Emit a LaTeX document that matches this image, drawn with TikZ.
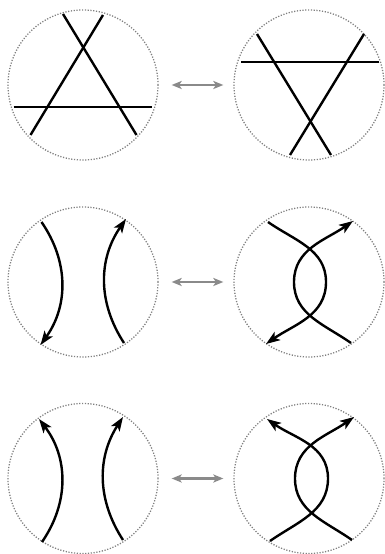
\documentclass[tikz,border=0pt]{standalone}
\usetikzlibrary{arrows.meta}
\definecolor{dotgray}{HTML}{808080}
\definecolor{arrgray}{HTML}{8A8A8A}
\begin{document}
\begin{tikzpicture}[x=1pt,y=1pt,
  disk/.style={circle,minimum size=150pt,inner sep=0pt,draw=dotgray,line width=1.3pt,dash pattern=on 1.2pt off 1.6pt},
  strand/.style={line width=2.4pt,black},
  arr/.style={strand,-{Stealth[length=14pt,width=10pt,inset=3.5pt]}},
  move/.style={arrgray,line width=2.2pt,{Stealth[length=10pt,width=8pt,inset=2.5pt]}-{Stealth[length=10pt,width=8pt,inset=2.5pt]},shorten <=13pt,shorten >=10pt}]
\useasboundingbox (0,0) rectangle (385,554);
% circles
\node[disk] (L1) at (83,469) {};
\node[disk] (R1) at (309,469) {};
\node[disk] (L2) at (83,272) {};
\node[disk] (R2) at (309,272) {};
\node[disk] (L3) at (83,75.5) {};
\node[disk] (R3) at (309,75.5) {};
% moves
\draw[move] (L1) -- (R1);
\draw[move] (L2) -- (R2);
\draw[move] (L3) -- (R3);
% row 1 left
\begin{scope}[shift={(L1.center)}]
  \draw[strand] (-20,71) -- (53.5,-50);
  \draw[strand] (20,70) -- (-52.5,-50);
  \draw[strand] (-69.5,-22) -- (69,-22);
\end{scope}
% row 1 right
\begin{scope}[shift={(R1.center)}]
  \draw[strand] (-52,51) -- (22,-70);
  \draw[strand] (55,51) -- (-19,-70);
  \draw[strand] (-68,23) -- (70,23);
\end{scope}
% row 2 left
\begin{scope}[shift={(L2.center)}]
  \draw[arr] (-41.5,60) to[bend left=35] (-42.5,-63);
  \draw[arr] (41,-61) to[bend left=34] (43,63);
\end{scope}
% row 2 right
\begin{scope}[shift={(R2.center)}]
  \draw[arr] (-41,60) to[out=-35,in=90] (17,0) to[out=-90,in=35] (-43,-62);
  \draw[arr] (42,-61) to[out=145,in=-90] (-15,0) to[out=90,in=-145] (44,61);
\end{scope}
% row 3 left
\begin{scope}[shift={(L3.center)}]
  \draw[arr] (-41,-63.5) to[bend right=36] (-44,59.5);
  \draw[arr] (40,-61.5) to[bend left=33] (40,61.5);
\end{scope}
% row 3 right
\begin{scope}[shift={(R3.center)}]
  \draw[arr] (-39,-62.5) to[out=35,in=-90] (19,0) to[out=90,in=-35] (-42,59.5);
  \draw[arr] (43,-61.5) to[out=145,in=-90] (-14,0) to[out=90,in=-145] (45,61.5);
\end{scope}
\end{tikzpicture}
\end{document}
